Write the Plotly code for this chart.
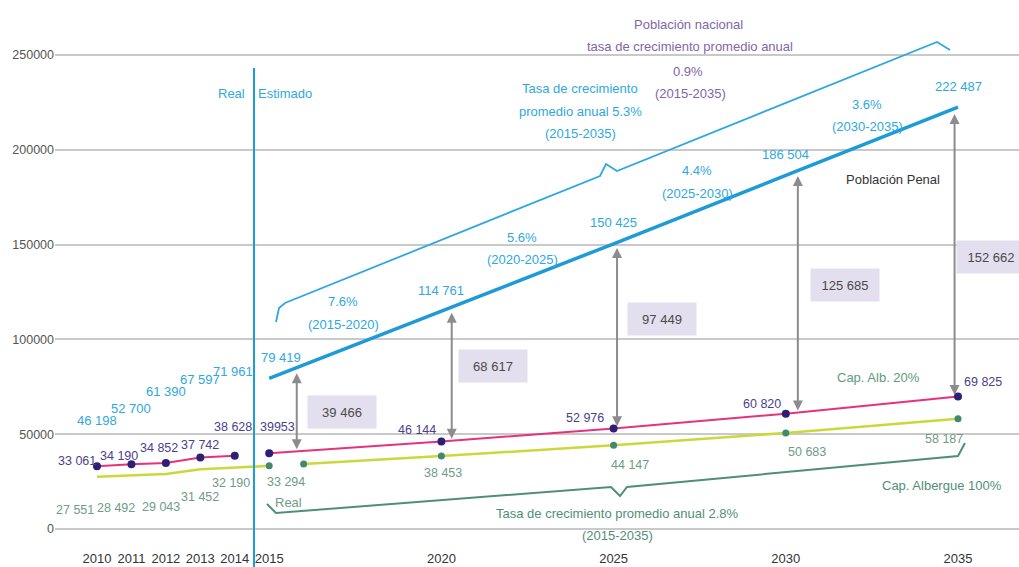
import plotly.graph_objects as go
import numpy as np

# ---------------- data ----------------
years_real = [2010, 2011, 2012, 2013, 2014]
years_est = [2015, 2020, 2025, 2030, 2035]

pob_penal_real = [46198, 52700, 61390, 67597, 71961]
pob_penal_est = [79419, 114761, 150425, 186504, 222487]

cap20_real = [33061, 34190, 34852, 37742, 38628]
cap20_est = [39953, 46144, 52976, 60820, 69825]

cap100_real_years = [2010, 2011, 2012, 2013, 2014, 2015]
cap100_real = [27551, 28492, 29043, 31452, 32190, 33294]
cap100_est_years = [2016, 2020, 2025, 2030, 2035]
cap100_est = [34300, 38453, 44147, 50683, 58187]

gap_labels = [39466, 68617, 97449, 125685, 152662]

x_ticks = [2010, 2011, 2012, 2013, 2014, 2015, 2020, 2025, 2030, 2035]
y_ticks = [0, 50000, 100000, 150000, 200000, 250000]

# ---------------- geometry helpers ----------------
W, H = 1019, 567
ML, MR, MT, MB = 55, 0, 0, 27
PX_YEAR = 34.44
PX_UNIT = 94.8 / 50000
X0 = 2010 - (97 - ML) / PX_YEAR
X1 = 2010 + (W - MR - 97) / PX_YEAR
Y1 = (529 - MT) / PX_UNIT
Y0 = (529 - (H - MB)) / PX_UNIT
PW, PH = W - ML - MR, H - MT - MB


def dx(px):
    return 2010 + (px - 97) / PX_YEAR


def dy(py):
    return (529 - py) / PX_UNIT


def fmt(v):
    return f"{v:,}".replace(",", " ")


FONT = "Liberation Sans Narrow, Liberation Sans, Arial, sans-serif"
FS = 12.5
FT = 13
LBLUE = "#2fa8e0"
BLUE = "#1e9bd7"
PINK = "#e5337b"
NAVY = "#2d1f75"
YEL = "#c9d93b"
GDOT = "#3f8a6a"
PURP = "#4b3f8e"
PURP_L = "#8066aa"
GLAB = "#6f9c86"
GDARK = "#4f8f77"

fig = go.Figure()

# lines
fig.add_trace(go.Scatter(x=years_est, y=pob_penal_est, mode="lines",
                         line=dict(color=BLUE, width=3.5), showlegend=False))
fig.add_trace(go.Scatter(x=cap100_real_years, y=cap100_real, mode="lines",
                         line=dict(color=YEL, width=2.5), showlegend=False))
fig.add_trace(go.Scatter(x=cap100_est_years, y=cap100_est, mode="lines",
                         line=dict(color=YEL, width=2.5), showlegend=False))
fig.add_trace(go.Scatter(x=[cap100_real_years[-1]] + cap100_est_years,
                         y=[cap100_real[-1]] + cap100_est, mode="markers",
                         marker=dict(color=GDOT, size=7), showlegend=False))
fig.add_trace(go.Scatter(x=years_real, y=cap20_real, mode="lines+markers",
                         line=dict(color=PINK, width=2),
                         marker=dict(color=NAVY, size=8), showlegend=False))
fig.add_trace(go.Scatter(x=years_est, y=cap20_est, mode="lines",
                         line=dict(color=PINK, width=2), showlegend=False))
fig.add_trace(go.Scatter(x=years_est, y=cap20_est, mode="markers",
                         marker=dict(color=NAVY, size=8), showlegend=False))

ann = []


def lab(x, y, text, color, xs=0, ys=0, size=FS):
    ann.append(dict(x=x, y=y, xref="x", yref="y", text=text, showarrow=False,
                    xshift=xs, yshift=ys, font=dict(family=FONT, size=size, color=color),
                    xanchor="center", yanchor="middle"))


def ptext(px, py, text, color, size=FT):
    ann.append(dict(x=(px - ML) / PW, y=1 - (py - MT) / PH, xref="paper", yref="paper",
                    text=text, showarrow=False, font=dict(family=FONT, size=size, color=color),
                    xanchor="center", yanchor="middle"))


# value labels: poblacion penal
pp_xshift = [0, 0, 0, 0, -2, 12, 0, 0, 0, 0]
for (yr, v), xs in zip(zip(years_real + years_est, pob_penal_real + pob_penal_est), pp_xshift):
    lab(yr, v, fmt(v), LBLUE, xs, 21, size=FT)
# cap 20%
c20_shift = [(-20, 5), (-12, 8), (-7, 15), (0, 12), (-2, 29), (8, 26), (-24, 12), (-29, 11), (-24, 10), (25, 15)]
c20_text = [fmt(v) for v in cap20_real] + ["39953"] + [fmt(v) for v in cap20_est[1:]]
for (yr, v), t, (xs, ys) in zip(zip(years_real + years_est, cap20_real + cap20_est), c20_text, c20_shift):
    lab(yr, v, t, PURP, xs, ys)
# cap 100%
g_years = cap100_real_years + cap100_est_years[1:]
g_vals = cap100_real + cap100_est[1:]
g_shift = [(-22, -33), (-15, -33), (-5, -33), (0, -28), (-4, -15), (17, -16), (2, -17), (16, -20), (21, -19), (-14, -20)]
for yr, v, (xs, ys) in zip(g_years, g_vals, g_shift):
    lab(yr, v, fmt(v), GLAB, xs, ys)

# gap arrows
arrow_years = [2015.8, 2020.3, 2025.1, 2030.35, 2034.9]
for ay in arrow_years:
    top = float(np.interp(ay, years_est, pob_penal_est))
    bot = float(np.interp(ay, years_est, cap20_est))
    ann.append(dict(x=ay, y=bot, ax=ay, ay=top, xref="x", yref="y", axref="x", ayref="y",
                    text="", showarrow=True, arrowhead=2, arrowside="end+start",
                    arrowsize=1, arrowwidth=2, arrowcolor="#8c8c8c",
                    standoff=2, startstandoff=4))

# gap boxes
box_px = [(342, 412), (493, 366), (662, 319), (845, 285), (991, 257)]
for (bx, by), g in zip(box_px, gap_labels):
    ann.append(dict(x=dx(bx), y=dy(by), xref="x", yref="y", text=fmt(g), showarrow=False,
                    bgcolor="#e4dfee", width=64, height=28, borderpad=2,
                    font=dict(family=FONT, size=13, color="#4a4a4a"),
                    xanchor="center", yanchor="middle"))

# free text
ptext(231, 93, "Real", LBLUE)
ptext(285, 93, "Estimado", LBLUE)
ptext(688, 25, "Población nacional", PURP_L)
ptext(690, 47, "tasa de crecimiento promedio anual", PURP_L)
ptext(688, 71, "0.9%", PURP_L)
ptext(690, 93, "(2015-2035)", PURP_L)
ptext(580, 89, "Tasa de crecimiento", LBLUE)
ptext(580, 112, "promedio anual 5.3%", LBLUE)
ptext(580, 134, "(2015-2035)", LBLUE)
ptext(343, 301, "7.6%", LBLUE)
ptext(343, 324, "(2015-2020)", LBLUE)
ptext(522, 237, "5.6%", LBLUE)
ptext(522, 259, "(2020-2025)", LBLUE)
ptext(697, 170, "4.4%", LBLUE)
ptext(697, 193, "(2025-2030)", LBLUE)
ptext(867, 105, "3.6%", LBLUE)
ptext(867, 126, "(2030-2035)", LBLUE)
ptext(893, 180, "Población Penal", "#333333")
ptext(878, 377, "Cap. Alb. 20%", "#5e9c7c")
ptext(942, 485, "Cap. Albergue 100%", GDARK)
ptext(617, 513, "Tasa de crecimiento promedio anual 2.8%", GDARK)
ptext(617, 535, "(2015-2035)", GDARK)
ptext(288, 502, "Real", GLAB)


def path(pts):
    return "M " + " L ".join(f"{dx(a):.4f},{dy(b):.2f}" for a, b in pts)


shapes = [
    dict(type="line", xref="x", yref="paper", x0=dx(254), x1=dx(254),
         y0=-0.07, y1=1 - 68 / PH, line=dict(color="#1b9dd9", width=2), layer="above"),
    dict(type="path", xref="x", yref="y",
         path=path([(276, 322), (279, 308), (285, 303), (600, 176), (606, 164), (617, 171),
                    (937, 42), (950, 50)]),
         line=dict(color=LBLUE, width=1.8)),
    dict(type="path", xref="x", yref="y",
         path=path([(267, 504), (276, 513), (611, 487), (620, 496), (627, 487), (958, 456),
                    (965, 443)]),
         line=dict(color=GDARK, width=2)),
]

fig.update_layout(
    width=W, height=H,
    margin=dict(l=ML, r=MR, t=MT, b=MB),
    paper_bgcolor="white", plot_bgcolor="white",
    showlegend=False,
    annotations=ann, shapes=shapes,
    xaxis=dict(range=[X0, X1], tickvals=x_ticks, ticktext=[str(t) for t in x_ticks],
               showgrid=False, zeroline=False, showline=False, ticks="",
               ticklabelstandoff=9,
               tickfont=dict(family=FONT, size=13, color="#333333")),
    yaxis=dict(range=[Y0, Y1], tickvals=y_ticks, ticktext=[str(t) for t in y_ticks],
               showgrid=True, gridcolor="#c9c9c9", gridwidth=2, zeroline=False,
               showline=False, ticks="",
               tickfont=dict(family=FONT, size=12.5, color="#555555")),
)

fig.write_html("out.html", config={"displayModeBar": False},
               post_script="document.body.style.margin='0px';")
